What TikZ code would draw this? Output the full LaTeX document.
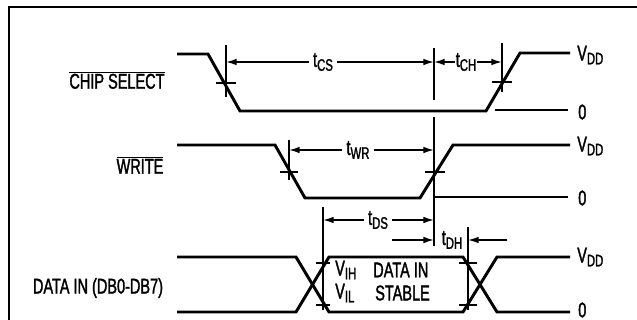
\documentclass[tikz,border=0pt]{standalone}
\usepackage{fontspec}
\setmainfont{Liberation Sans}[FakeStretch=0.68,FakeBold=1.5]
\usetikzlibrary{arrows.meta}
\newcommand{\lowidx}[1]{\raisebox{-0.35ex}{\fontsize{12.5}{12}\selectfont #1}}
\tikzset{
  wave/.style={line width=2.2pt},
  zeroline/.style={line width=1.5pt},
  guide/.style={line width=1.1pt},
  dimline/.style={line width=1.1pt,-{Latex[length=8pt,width=5pt]}},
  lbl/.style={inner sep=0pt,font=\fontsize{16}{17}\selectfont},
  dimlbl/.style={lbl,inner xsep=3pt},
}

\begin{document}
\begin{tikzpicture}[x=0.75pt,y=-0.75pt]
  \useasboundingbox (0,0) rectangle (637,320);
  \draw[line width=1.6pt] (9,320) -- (9,7) -- (637,7);

  % signal names
  \node[lbl] (csname) at (117,80) {$\overline{\mbox{CHIP SELECT}}$};
  \node[lbl] (wrname) at (140,165) {$\overline{\mbox{WRITE}}$};
  \node[lbl] (dataname) at (98,288) {DATA IN (DB0-DB7)};

  % waveforms
  \draw[wave] (177,54) -- (208,54) -- (240,111) -- (486,111) -- (520,53) -- (570,53);
  \draw[zeroline] (495,110) -- (568,110);
  \draw[wave] (177,145) -- (275,145) -- (305,198) -- (420,198) -- (453,145) -- (570,145);
  \draw[zeroline] (435,197) -- (568,197);
  \draw[wave] (177,257) -- (296,257) -- (329,312) -- (463,312) -- (497,257) -- (570,257);
  \draw[wave] (177,312) -- (296,312) -- (329,257) -- (463,257) -- (497,312) -- (570,312);

  % levels
  \node[lbl,anchor=west] (vdd1) at (577,55) {V\lowidx{DD}};
  \node[lbl,anchor=west] (zero1) at (578,112) {0};
  \node[lbl,anchor=west] (vdd2) at (577,146) {V\lowidx{DD}};
  \node[lbl,anchor=west] (zero2) at (578,198) {0};
  \node[lbl,anchor=west] (vdd3) at (577,257) {V\lowidx{DD}};
  \node[lbl,anchor=west] (zero3) at (578,310) {0};

  % timing marks
  \coordinate (m1) at (226,62);
  \coordinate (m2) at (434,62);
  \coordinate (m3) at (502,62);
  \coordinate (m4) at (289,150);
  \coordinate (m5) at (323,220);
  \coordinate (m6) at (468,240);
  \draw[guide] (226,45) -- (226,97);
  \draw[guide] (216,83) -- (236,83);
  \draw[guide] (434,48) -- (434,100);
  \draw[guide] (434,117) -- (434,246);
  \draw[guide] (425,172) -- (445,172);
  \draw[guide] (502,43) -- (502,92);
  \draw[guide] (492,82) -- (512,82);
  \draw[guide] (289,140) -- (289,180);
  \draw[guide] (280,172) -- (298,172);
  \draw[guide] (323,207) -- (323,310);
  \draw[guide] (316,263) -- (330,263);
  \draw[guide] (316,305) -- (330,305);
  \draw[guide] (468,227) -- (468,310);
  \draw[guide] (459,263) -- (477,263);
  \draw[guide] (459,305) -- (477,305);

  % intervals
  \node[dimlbl] (tcs) at (323,62) {t\lowidx{CS}};
  \draw[dimline] (tcs.west) -- (tcs.west -| m1);
  \draw[dimline] (tcs.east) -- (tcs.east -| m2);
  \node[dimlbl,inner xsep=0.5pt] (tch) at (466,62) {t\lowidx{CH}};
  \draw[dimline] (tch.west) -- (tch.west -| m2);
  \draw[dimline] (tch.east) -- (tch.east -| m3);
  \node[dimlbl] (twr) at (358,150) {t\lowidx{WR}};
  \draw[dimline] (twr.west) -- (twr.west -| m4);
  \draw[dimline] (twr.east) -- (twr.east -| m2);
  \node[dimlbl] (tds) at (378,220) {t\lowidx{DS}};
  \draw[dimline] (tds.west) -- (tds.west -| m5);
  \draw[dimline] (tds.east) -- (tds.east -| m2);
  \node[lbl] (tdh) at (452,240) {t\lowidx{DH}};
  \coordinate (dhl) at (392,240);
  \coordinate (dhr) at (507,240);
  \draw[dimline] (dhl) -- (dhl -| m2);
  \draw[dimline] (dhr) -- (m6);

  % stable window
  \node[lbl,anchor=west] (vih) at (335,270) {V\lowidx{IH}};
  \node[lbl,anchor=west] (vil) at (335,293) {V\lowidx{IL}};
  \node[lbl,anchor=west] (datain) at (373,270) {DATA IN};
  \node[lbl,anchor=west] (stable) at (375,293) {STABLE};
\end{tikzpicture}
\end{document}
